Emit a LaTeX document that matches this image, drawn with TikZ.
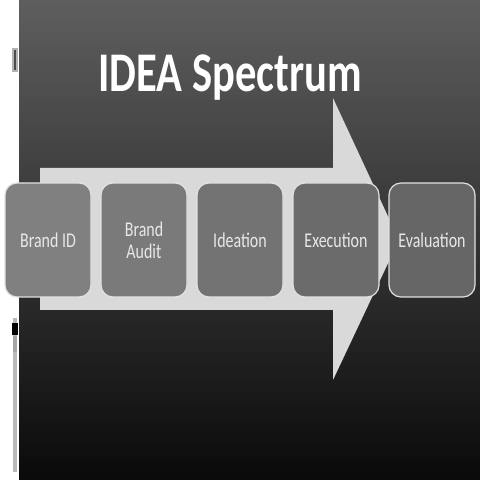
\documentclass[tikz,border=0pt]{standalone}
\usepackage{fontspec}
\usetikzlibrary{positioning}
\newfontfamily\slidefont[FakeStretch=0.76]{Carlito}
\definecolor{slidetop}{RGB}{94,94,94}
\definecolor{slidebottom}{RGB}{10,10,10}
\definecolor{arrowgray}{RGB}{217,217,217}
\definecolor{rimgray}{RGB}{225,225,225}
\definecolor{labelgray}{RGB}{232,232,232}
\tikzset{
  stage/.style={draw=rimgray, line width=1.2pt, rounded corners=12pt,
    minimum width=86pt, minimum height=114pt, inner sep=0pt,
    align=center, text=labelgray, font=\slidefont\fontsize{21}{22}\selectfont},
}
\begin{document}
\begin{tikzpicture}[x=1pt, y=1pt, node distance=8.8pt]
\useasboundingbox (0,0) rectangle (480,480);
% Slide background
\fill[white] (0,0) rectangle (480,480);
\shade[top color=slidetop, bottom color=slidebottom] (19,0) rectangle (480,480);
% Scroll marks on the left edge
\draw[gray!60, fill=black!70, line width=1.5pt] (13,409) rectangle (17,431);
\fill[gray!55] (13,8) rectangle (17,162);
\fill[black] (12,145) rectangle (18,157);
\fill[gray!70] (13,128) rectangle (17,144);

% Title
\node[text=white, font=\slidefont\bfseries\fontsize{56}{60}\selectfont] (title) at (230,402) {IDEA Spectrum};

% Big arrow
\fill[arrowgray] (40,312) -- (333,312) -- (333,382) -- (399,240)
  -- (333,100) -- (333,170) -- (40,170) -- cycle;

% Stages
\node[stage, fill=black!50] (brandid) at (48,240) {Brand ID};
\node[stage, fill=black!52, right=of brandid] (brandaudit) {Brand\\Audit};
\node[stage, fill=black!55, right=of brandaudit] (ideation) {Ideation};
\node[stage, fill=black!58, right=of ideation] (execution) {Execution};
\node[stage, fill=black!60, right=of execution] (evaluation) {Evaluation};
\end{tikzpicture}
\end{document}
